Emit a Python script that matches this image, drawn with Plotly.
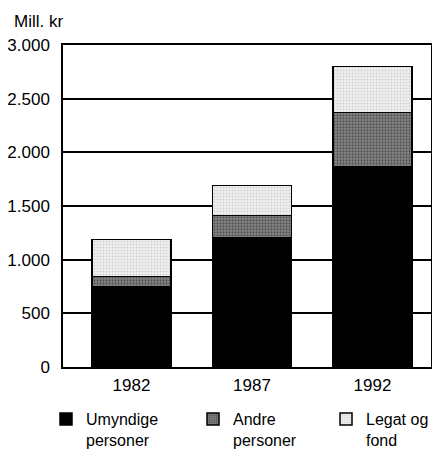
import plotly.graph_objects as go

years = ["1982", "1987", "1992"]
umyndige = [745, 1200, 1870]
andre = [100, 210, 500]
legat = [345, 280, 430]
series_names = ["Umyndige<br>personer", "Andre<br>personer", "Legat og<br>fond"]
y_ticks = [0, 500, 1000, 1500, 2000, 2500, 3000]

FONT = "Liberation Sans, Arial, sans-serif"
FS = 17
LFS = 16
xpos = list(range(len(years)))

fig = go.Figure()
fig.add_trace(go.Bar(x=xpos, y=umyndige, name=series_names[0], legend="legend",
                     marker=dict(color="#000000", line=dict(color="#000", width=1.5))))
fig.add_trace(go.Bar(x=xpos, y=andre, name=series_names[1], legend="legend2",
                     marker=dict(color="#6a6a6a", line=dict(color="#000", width=1.5),
                                 pattern=dict(shape=".", fgcolor="#1a1a1a", bgcolor="#8a8a8a", size=3, solidity=0.45))))
fig.add_trace(go.Bar(x=xpos, y=legat, name=series_names[2], legend="legend3",
                     marker=dict(color="#e6e6e6", line=dict(color="#000", width=1.5),
                                 pattern=dict(shape=".", fgcolor="#b0b0b0", bgcolor="#f0f0f0", size=3, solidity=0.3))))

leg_common = dict(orientation="v", yanchor="top", valign="top", xanchor="left",
                  bgcolor="rgba(0,0,0,0)", font=dict(family=FONT, size=LFS, color="#000"))
legend_y = -0.109

fig.update_layout(
    barmode="stack",
    bargap=0.344,
    width=432, height=452,
    margin=dict(l=55, r=9, t=37, b=93, autoexpand=False),
    paper_bgcolor="white", plot_bgcolor="white",
    separators=",.",
    font=dict(family=FONT, size=FS, color="#000"),
    showlegend=True,
    legend=dict(x=-0.0462, y=legend_y, **leg_common),
    legend2=dict(x=0.3533, y=legend_y, **leg_common),
    legend3=dict(x=0.7147, y=legend_y, **leg_common),
    xaxis=dict(tickmode="array", tickvals=xpos, ticktext=years, range=[-0.568, 2.486],
               showgrid=False, showline=True, linecolor="#000", linewidth=1.5, mirror=True,
               ticks="", zeroline=False, automargin=False, ticklabelstandoff=2),
    yaxis=dict(range=[0, 3000], tickvals=y_ticks, tickformat=",d", showgrid=True,
               gridcolor="#000", gridwidth=1.5, showline=True, linecolor="#000", linewidth=1.5,
               mirror=True, ticks="", zeroline=False, ticklabelstandoff=8, automargin=False),
    annotations=[dict(text="Mill. kr", xref="paper", yref="paper", x=-0.1386, y=1.0745,
                      xanchor="left", yanchor="middle", showarrow=False,
                      font=dict(family=FONT, size=FS, color="#000"))],
)

fig.write_html("out.html")
